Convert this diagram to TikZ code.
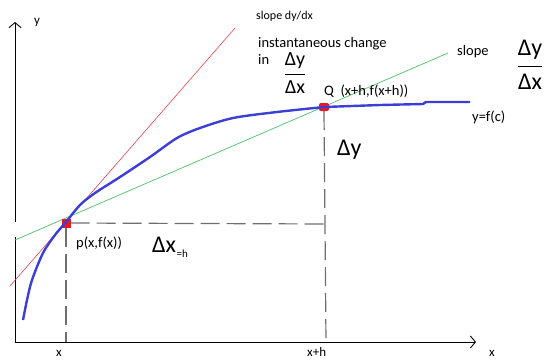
\documentclass[tikz,border=0pt]{standalone}
\usepackage{fontspec}
\usepackage{amsmath}
\setmainfont{Carlito}
\usetikzlibrary{positioning, calc, arrows.meta}
\definecolor{CurveBlue}{HTML}{3B3FD6}
\definecolor{TanRed}{HTML}{F0404A}
\definecolor{SecGreen}{HTML}{4CC266}
\definecolor{DashGray}{HTML}{6E6E6E}
\definecolor{PtRed}{HTML}{E8191E}

\begin{document}
\begin{tikzpicture}[x=1pt, y=-1pt,
  axis/.style={line width=0.9pt, -{Straight Barb[length=5pt, width=12pt]}},
  guide/.style={DashGray, line width=1.2pt, dash pattern=on 19pt off 7pt},
  curve/.style={CurveBlue, line width=2.4pt, line join=round},
  tangent/.style={TanRed, line width=0.6pt},
  secant/.style={SecGreen, line width=0.7pt},
  pt/.style={fill=PtRed, draw=none, minimum size=9pt, inner sep=0pt},
  lbl/.style={font=\fontsize{14.5}{17}\selectfont, inner sep=0pt, anchor=west},
  axlbl/.style={font=\fontsize{13}{15}\selectfont, inner sep=0pt, anchor=west},
  hand/.style={font=\fontsize{24}{26}\selectfont, inner sep=0pt}
]
  \useasboundingbox (0,0) rectangle (553,360);

  \coordinate (origin) at (15,342);
  \coordinate (ygaplo) at (15,237);
  \coordinate (ygaphi) at (15,222);
  \coordinate (ytip) at (15,22);
  \coordinate (xtip) at (476,342);
  \draw[line width=0.9pt] (origin) -- (ygaplo);
  \draw[axis] (ygaphi) -- (ytip);
  \draw[axis] (origin) -- (xtip);

  \coordinate (tanA) at (10,286);
  \coordinate (tanB) at (235,28);
  \coordinate (secA) at (15,240);
  \coordinate (secB) at (448,53);
  \draw[tangent] (tanA) -- (tanB);
  \draw[secant] (secA) -- (secB);

  \node[pt] (P) at (66,223) {};
  \node[pt, rounded corners=2pt, minimum width=10pt, minimum height=8pt] (Q) at (324,107) {};
  \coordinate (xfoot) at (66,342);
  \coordinate (xhfoot) at (326,342);
  \coordinate (corner) at (326,224);

  \draw[guide] (P.east) -- (corner);
  \draw[guide] (P.south) -- (xfoot);
  \draw[guide] (Q.south) -- (xhfoot);

  \draw[curve] plot[smooth, tension=0.5] coordinates {(23,320) (27,300) (32,280) (43,253) (55,235) (66,222)
    (80,205) (95,193) (120,177) (150,157) (177,138) (200,128) (233,118) (277,112) (324,107)}
    -- (380,105) -- (423,104) -- (426,102) -- (470,102);

  \node[axlbl] (ylab) at (34,22) {y};
  \node[axlbl] (xlab) at (489,353) {x};
  \node[axlbl] (xhlab) at (307,352) {x+h};
  \node[axlbl] (xPlab) at (56,353) {x};
  \node[lbl, font=\fontsize{12}{14}\selectfont] (slopedy) at (256,16) {slope dy/dx};
  \node[lbl, align=left, anchor=north west] (inst) at (258,37) {instantaneous change\\in};
  \node[hand, font=\fontsize{20}{22}\selectfont] (ddx) at (295,73) {$\dfrac{\text{Δy}}{\text{Δx}}$};
  \node[lbl] (Qlab) at (324,91) {Q\ \ (x+h,f(x+h))};
  \node[lbl] (slope) at (457,52) {slope};
  \node[hand] (frac) at (530,65) {$\dfrac{\text{Δy}}{\text{Δx}}$};
  \node[lbl] (flab) at (472,117) {y=f(c)};
  \node[hand, anchor=west] (dy) at (337,150) {Δy};
  \node[lbl] (Plab) at (76,243) {p(x,f(x))};
  \node[hand, anchor=west] (dx) at (152,245) {Δx};
  \node[lbl, font=\fontsize{11}{13}\selectfont, anchor=west] (hlab) at (dx.east |- 0,254) {=h};
\end{tikzpicture}
\end{document}
